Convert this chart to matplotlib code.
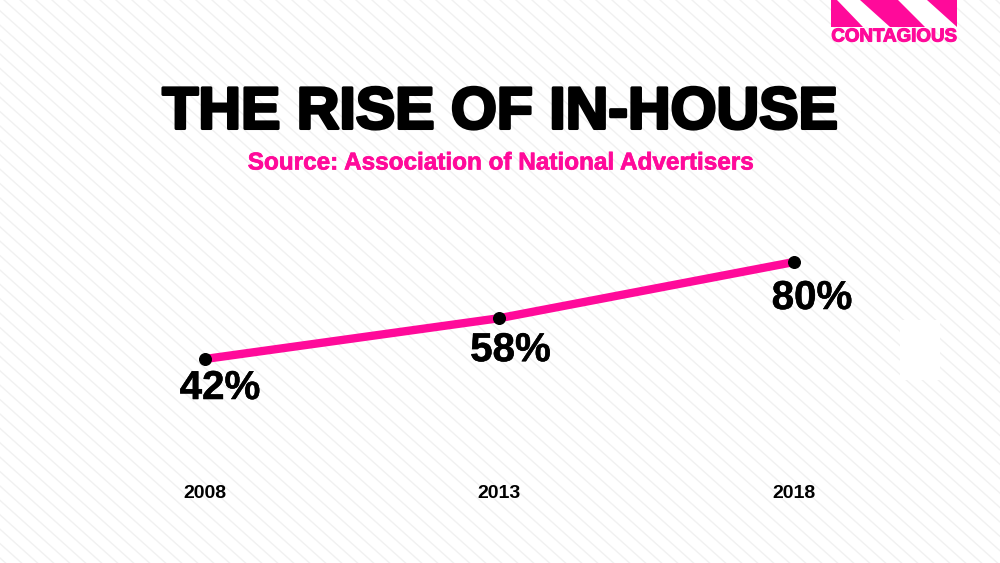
import matplotlib
matplotlib.use("Agg")
import matplotlib.pyplot as plt
from matplotlib.patches import Polygon, Rectangle
import matplotlib.patheffects as pe
import numpy as np

years = [2008, 2013, 2018]
values = [42, 58, 80]
value_labels = ["42%", "58%", "80%"]
year_labels = ["2008", "2013", "2018"]

# label offsets in pixels (layout only)
label_offsets = [(15, -29), (11, -32), (18, -36)]

PINK = "#ff0a9a"
W, H = 1000, 563
fig = plt.figure(figsize=(W / 100, H / 100), dpi=100)
fig.patch.set_facecolor("white")

# background stripes in pixel coordinates
bg = fig.add_axes([0, 0, 1, 1])
bg.set_xlim(0, W)
bg.set_ylim(H, 0)
bg.axis("off")
slope = 0.9
for x0 in np.arange(-700, W + 20, 16):
    bg.plot([x0, x0 + H / slope], [0, H], color="#f1f1f1", lw=1.0, zorder=0)
bg.add_patch(Rectangle((900, 320), 40, 60, facecolor="white", edgecolor="none", zorder=1))

# logo
bg.add_patch(Rectangle((831, 0), 126, 27, facecolor=PINK, edgecolor="none", zorder=2))
bg.add_patch(Polygon([(837, 0), (860, 0), (890, 27), (863, 27)], closed=True,
                     facecolor="white", edgecolor="none", zorder=3))
bg.add_patch(Polygon([(898, 0), (927, 0), (957, 27), (925, 27)], closed=True,
                     facecolor="white", edgecolor="none", zorder=3))
bg.text(894, 37, "CONTAGIOUS", color=PINK, fontsize=13.5, fontweight="bold",
        family="Liberation Sans", ha="center", va="center", zorder=3,
        path_effects=[pe.withStroke(linewidth=0.8, foreground=PINK)])

# titles
bg.text(500, 113, "THE RISE OF IN-HOUSE", color="black", fontsize=42.5, fontweight="bold",
        family="Liberation Sans", ha="center", va="center", zorder=3,
        path_effects=[pe.withStroke(linewidth=2.2, foreground="black")])
bg.text(501, 163, "Source: Association of National Advertisers", color=PINK, fontsize=17.5,
        fontweight="bold", family="Liberation Sans", ha="center", va="center", zorder=3,
        path_effects=[pe.withStroke(linewidth=0.5, foreground=PINK)])

# data axes
ax = fig.add_axes([0, 0, 1, 1])
ax.patch.set_alpha(0)
ppy = (794 - 205) / 10.0
ax.set_xlim(2008 - 205 / ppy, 2018 + (W - 794) / ppy)
ppv = (359 - 262) / (80 - 42)
y0px = 359 + 42 * ppv
ax.set_ylim(-(H - y0px) / ppv, y0px / ppv)
ax.axis("off")

ax.plot(years, values, color=PINK, lw=6, solid_capstyle="butt", zorder=4)
ax.scatter(years, values, s=70, color="black", zorder=5)
for x, v, lab, off in zip(years, values, value_labels, label_offsets):
    ax.annotate(lab, (x, v), xytext=off, textcoords="offset pixels",
                ha="center", va="center", fontsize=29, fontweight="bold",
                family="Liberation Sans", color="black", zorder=6,
                path_effects=[pe.withStroke(linewidth=0.4, foreground="black")])
for x, lab in zip(years, year_labels):
    ax.annotate(lab, (x, 0), xytext=(0, y0px - 493), textcoords="offset pixels",
                ha="center", va="center", fontsize=14, fontweight="bold",
                family="Liberation Sans", color="black", zorder=6)

fig.savefig("out.png", dpi=100, facecolor="white")
